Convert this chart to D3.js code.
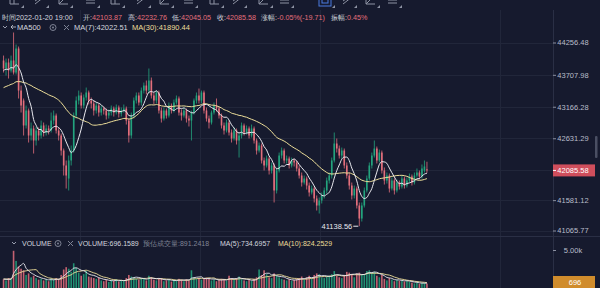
<!DOCTYPE html>
<html><head><meta charset="utf-8">
<script src="https://cdn.jsdelivr.net/npm/d3@7"></script>
<style>
html,body{margin:0;padding:0;background:#161a2e;overflow:hidden}
svg{display:block}
text{font-family:"Liberation Sans",Arial,sans-serif;font-size:7.5px}
</style></head><body>
<svg id="c" width="600" height="288"></svg>
<script>
// ---------------- DATA ----------------
const opens=[43951,43815,43917,43781,43951,43747,44154,43441,43272,42848,43102,42678,42797,42593,42763,42678,42848,42729,42797,42763,
42932,43017,42763,42678,42423,42169,41948,42254,42423,43017,43272,43357,43187,43323,43408,43272,43221,43102,43187,43068,
43136,43102,43017,43068,43136,43068,43153,43051,43102,43136,42932,42678,43017,43272,43357,43238,43441,43526,43441,43611,
43357,43272,43408,43102,42966,43102,43017,43187,43102,43238,43306,43068,43017,43102,42966,42932,43068,43272,43357,43272,
43408,43102,42966,42898,43068,43187,43136,43017,42848,42763,42898,42729,42627,42763,42593,42678,42848,42729,42797,42678,
42797,42593,42423,42508,42254,42169,42287,42084,42169,41745,42084,42338,42423,42254,42287,42169,42254,42220,42118,41999,
41880,41948,41829,41711,41778,41609,41490,41575,41660,41745,41914,41999,42254,42542,42457,42338,42423,42169,41999,41829,
41660,41778,41490,41269,41490,41745,41948,42169,42338,42457,42254,42389,42084,41914,41999,41778,41914,41745,41880,41812,
41948,41829,41914,41982,41880,41999,42050,41982,42084,42103.87];
const highs=[44035,43984,43984,44035,44426,44222,44188,43526,43306,43187,43136,42898,42848,42831,42814,42932,42898,42864,42848,43068,
43102,43051,42814,42712,42457,42254,42338,42508,43068,43340,43441,43408,43374,43492,43441,43323,43272,43238,43221,43187,
43170,43136,43119,43187,43170,43204,43187,43153,43204,43170,42966,43068,43323,43408,43408,43492,43577,43611,43815,43662,
43408,43441,43441,43153,43153,43136,43238,43221,43289,43357,43340,43119,43153,43136,43017,43102,43306,43408,43475,43441,
43441,43153,43017,43102,43238,43306,43170,43051,42898,42949,42932,42780,42814,42797,42729,42898,42881,42848,42831,42864,
42831,42627,42559,42542,42304,42338,42321,42220,42203,42135,42389,42474,42457,42338,42321,42304,42287,42254,42169,42050,
41999,41982,41880,41829,41812,41660,41626,41711,41795,41965,42050,42304,42729,42627,42508,42474,42457,42220,42050,41880,
41829,41812,41541,41541,41795,41999,42220,42389,42593,42491,42440,42423,42135,42050,42033,41965,41948,41931,41914,41999,
41982,41965,42033,42016,42050,42118,42084,42186,42254,42232.76];
const lows=[43747,43696,43645,43747,43713,43713,43306,43068,42678,42797,42559,42593,42372,42508,42593,42627,42661,42678,42695,42729,
42864,42712,42593,42338,41999,41778,41745,42169,42389,42966,43204,43136,43136,43272,43204,43136,43017,43051,43000,43017,
43034,42949,42966,43017,43000,43034,42983,43000,43068,42864,42559,42627,42966,43221,43187,43187,43391,43374,43391,43306,
43204,43221,43051,42898,42932,42966,42983,43051,43068,43204,43017,42932,42983,42898,42831,42593,43034,43221,43221,43221,
43051,42915,42797,42864,43034,43085,42966,42797,42695,42729,42678,42559,42593,42525,42304,42627,42678,42695,42627,42644,
42542,42355,42389,42203,42084,42135,42016,42033,41541,41694,42050,42287,42203,42203,42118,42135,42152,42067,41948,41812,
41846,41761,41643,41677,41541,41405,41354,41524,41609,41694,41863,41948,42220,42389,42287,42287,42118,41948,41761,41592,
41609,41439,41138.56,41218,41456,41711,41914,42118,42304,42203,42220,42033,41846,41863,41711,41745,41677,41711,41761,41778,
41778,41795,41880,41829,41846,41965,41931,41948,42050,42045.05];
const closes=[43815,43917,43781,43951,43747,44154,43441,43187,42848,43102,42678,42797,42593,42763,42678,42848,42729,42797,42763,42932,
43017,42763,42678,42423,42169,41999,42254,42423,43017,43272,43357,43187,43323,43408,43272,43221,43102,43187,43068,43136,
43102,43017,43068,43136,43068,43153,43051,43102,43136,42932,42678,43017,43272,43357,43238,43441,43526,43441,43611,43357,
43272,43408,43102,42966,43102,43017,43187,43102,43238,43306,43068,43017,43102,42966,42932,43068,43272,43357,43272,43408,
43102,42966,42898,43068,43187,43136,43017,42848,42763,42898,42729,42627,42763,42593,42678,42848,42729,42797,42678,42797,
42593,42423,42508,42254,42169,42287,42084,42169,41745,42084,42338,42423,42254,42287,42169,42254,42220,42118,41999,41880,
41948,41829,41711,41778,41609,41490,41575,41660,41745,41914,41999,42254,42542,42457,42338,42423,42169,41999,41829,41660,
41778,41490,41269,41490,41745,41948,42169,42338,42457,42254,42389,42084,41914,41999,41778,41914,41745,41880,41812,41948,
41829,41914,41982,41880,41999,42050,41982,42118,42152,42085.58];
// closes of the 29 bars before the visible window (feed the moving averages)
const priorCloses=[43320,43290,43350,43310,43280,43340,43300,43260,43330,43380,43350,43410,43390,43360,43420,43450,43400,43470,43500,43480,
43540,43590,43720,43760,43800,43740,43790,43760,43800];
const volumes=[1250,1100,1400,1300,4900,3600,2900,2600,2400,1800,
2000,1500,1700,1400,1200,1300,1100,1250,1000,1350,1200,1400,1300,
1800,2500,2800,2600,2200,3300,2700,
2100,1700,1900,2300,1600,1500,1400,1300,1450,
1100,1000,1200,900,1150,1050,1250,950,1100,1000,1400,
1800,1600,1500,1300,1200,1400,1300,1100,1700,
1500,1200,1100,1300,1400,1000,1100,1200,950,1150,1050,1300,1200,1000,1250,1100,
2400,
1500,1300,1400,1200,1300,1450,1350,1100,1200,1000,1150,1300,1250,1050,
1700,1400,1200,1350,1600,1250,1100,1000,1200,1050,1300,1500,
2500,1800,2400,1900,
1500,1400,2000,1700,1500,1300,1200,1100,1250,1050,1150,1300,
1400,1600,1200,1500,1700,1300,1800,2000,1900,1500,1400,1600,1700,1900,
2300,1700,1500,1400,1800,2200,2100,1900,1500,
2000,2100,1800,1900,2300,2400,2100,2200,1700,1500,1800,
1300,1100,1400,1200,1000,1150,1050,1100,
950,1050,900,820,720,820,650,760,800,696.1589];
const priorVolumes=[1200,1500,1100,1300,1400,1250,1350,1200,1300];
const priceTicks=[44256.48,43707.98,43166.28,42631.29,42085.58,41581.12,41065.77];
const volumeTicks=[5000];
const lastPrice=42085.58, lastVolume=696;
const lowLabel={index:142,value:41138.56};
const infoRow=[["时间2022-01-20 19:00",""],["开:","42103.87"],["高:","42232.76"],["低:","42045.05"],["收:","42085.58"],["涨幅:","-0.05%(-19.71)"],["振幅:","0.45%"]];
const maRow=[["MA(7):42022.51","ma7"],["MA(30):41890.44","ma30"]];
const volRow=[["VOLUME:696.1589","w"],["预估成交量:891.2418","g"],["MA(5):734.6957","w"],["MA(10):824.2529","y"]];

// ---------------- STYLE ----------------
const C={bg:"#161a2e",grid:"#21263a",up:"#23a47e",down:"#e36f7c",ma7:"#e9e9ef",ma30:"#eedf9a",
  text:"#d3d6df",dim:"#808596",red:"#e5707c",axis:"#b9bdca"};
const N=closes.length;
const svg=d3.select("#c");
svg.append("rect").attr("width",600).attr("height",288).attr("fill",C.bg);

const x=d3.scaleBand().domain(d3.range(N)).range([2.75,427.75]).paddingInner(0.36);
const cx=i=>x(i)+x.bandwidth()/2;
const y=d3.scaleLinear().domain([41065.77,44256.48]).range([230.5,42.5]);
const vy=d3.scaleLinear().domain([0,5000]).range([289,250]);

// grid
const g=svg.append("g");
priceTicks.forEach(t=>g.append("line").attr("x1",0).attr("x2",553).attr("y1",Math.round(y(t))+0.5).attr("y2",Math.round(y(t))+0.5).attr("stroke",C.grid));
[80,200,320,500].forEach(v=>g.append("line").attr("x1",v+0.5).attr("x2",v+0.5).attr("y1",10).attr("y2",288).attr("stroke",C.grid));
g.append("line").attr("x1",0).attr("x2",600).attr("y1",236.5).attr("y2",236.5).attr("stroke","#2a2f45");
g.append("line").attr("x1",553.5).attr("x2",553.5).attr("y1",10).attr("y2",288).attr("stroke","#2a2f45");

// candles
const col=i=>closes[i]>=opens[i]?C.up:C.down;
const cg=svg.append("g");
cg.selectAll("line").data(d3.range(N)).join("line")
  .attr("x1",cx).attr("x2",cx).attr("y1",i=>y(highs[i])).attr("y2",i=>y(lows[i]))
  .attr("stroke",col).attr("stroke-width",0.8);
cg.selectAll("rect").data(d3.range(N)).join("rect")
  .attr("x",i=>x(i)).attr("width",x.bandwidth())
  .attr("y",i=>y(Math.max(opens[i],closes[i])))
  .attr("height",i=>Math.max(1,Math.abs(y(opens[i])-y(closes[i]))))
  .attr("fill",col);

// moving averages
function ma(vals,prior,n){const all=prior.concat(vals);const off=prior.length;
  return vals.map((v,i)=>{const s=Math.max(0,i+off-n+1);const w=all.slice(s,i+off+1);return d3.mean(w);});}
const ma7=ma(closes,priorCloses,7), ma30=ma(closes,priorCloses,30);
const line=d3.line().x((d,i)=>cx(i)).y(d=>y(d)).curve(d3.curveMonotoneX);
svg.append("path").attr("d",line(ma30)).attr("fill","none").attr("stroke",C.ma30).attr("stroke-width",1);
svg.append("path").attr("d",line(ma7)).attr("fill","none").attr("stroke",C.ma7).attr("stroke-width",1);

// low label
svg.append("text").attr("x",cx(lowLabel.index)-7).attr("y",y(lowLabel.value)+3).attr("text-anchor","end")
  .attr("fill","#e8e9ee").text(d3.format(".2f")(lowLabel.value));
svg.append("line").attr("x1",cx(lowLabel.index)-6).attr("x2",cx(lowLabel.index)-1).attr("y1",y(lowLabel.value)).attr("y2",y(lowLabel.value)).attr("stroke","#e8e9ee");

// volume
const vg=svg.append("g");
vg.selectAll("rect").data(d3.range(N)).join("rect")
  .attr("x",i=>x(i)).attr("width",x.bandwidth())
  .attr("y",i=>vy(volumes[i])).attr("height",i=>vy(0)-vy(volumes[i]))
  .attr("fill",col).attr("opacity",0.85);
const vma5=ma(volumes,priorVolumes,5), vma10=ma(volumes,priorVolumes,10);
const vline=d3.line().x((d,i)=>cx(i)).y(d=>vy(d)).curve(d3.curveMonotoneX);
svg.append("path").attr("d",vline(vma10)).attr("fill","none").attr("stroke",C.ma30).attr("stroke-width",0.9);
svg.append("path").attr("d",vline(vma5)).attr("fill","none").attr("stroke",C.ma7).attr("stroke-width",0.9);

// right price axis
const ax=svg.append("g").attr("transform","translate(553,0)")
  .call(d3.axisRight(y).tickValues(priceTicks).tickSize(3).tickFormat(d3.format(".2f")));
ax.select(".domain").remove();
ax.selectAll("line").attr("stroke","#8a8fa0");
ax.selectAll("text").attr("x",20).attr("text-anchor","middle").attr("fill",C.axis).style("font-size","7.5px").style("font-family","Liberation Sans, Arial");
const vax=svg.append("g").attr("transform","translate(553,0)")
  .call(d3.axisRight(vy).tickValues(volumeTicks).tickSize(3).tickFormat(d=>d3.format(".2f")(d/1000)+"k"));
vax.select(".domain").remove();
vax.selectAll("line").attr("stroke","#8a8fa0");
vax.selectAll("text").attr("x",20).attr("text-anchor","middle").attr("fill",C.axis).style("font-size","7.5px").style("font-family","Liberation Sans, Arial");

// last price box
svg.append("rect").attr("x",553).attr("y",y(lastPrice)-6).attr("width",42).attr("height",12).attr("fill","#cf4e5c");
svg.append("text").attr("x",573).attr("y",y(lastPrice)+2.6).attr("text-anchor","middle").attr("fill","#fff").text(d3.format(".2f")(lastPrice));
svg.append("line").attr("x1",553).attr("x2",556).attr("y1",y(lastPrice)).attr("y2",y(lastPrice)).attr("stroke","#fff");
// last volume box
svg.append("rect").attr("x",553).attr("y",276).attr("width",42).attr("height",12).attr("fill","#d08c2c");
svg.append("text").attr("x",575).attr("y",285).attr("text-anchor","middle").attr("fill","#fff").text(lastVolume);
// scrollbar hint
svg.append("rect").attr("x",595).attr("y",136).attr("width",2.5).attr("height",22).attr("rx",1).attr("fill","#4a4f63");

// toolbar icons (clipped at top)
const tb=svg.append("g").attr("stroke","#8e93a4").attr("fill","none").attr("stroke-width",1);
const iconXs=[15,40,64,91,116,142,165,189,215,238,264,285,326,348,371,393];
iconXs.forEach((ix,k)=>{
  const gg=tb.append("g").attr("transform",`translate(${ix},0)`);
  if(k===12){gg.append("rect").attr("x",-7).attr("y",-3).attr("width",12).attr("height",9).attr("stroke","#4a7be0");gg.append("rect").attr("x",-4).attr("y",-1).attr("width",6).attr("height",4).attr("stroke","#4a7be0");}
  else if(k%4===0){gg.append("path").attr("d","M-5,-2 L-5,4 L4,4 M-1,-2 L-1,4");}
  else if(k%4===1){gg.append("path").attr("d","M-5,4 L4,-3 M-5,1 L1,-3");}
  else if(k%4===2){gg.append("path").attr("d","M-5,-3 L-5,4 L4,4 M-5,4 L2,-3");}
  else {gg.append("path").attr("d","M-5,0 L4,0 M-5,3 L4,3 M-5,-3 L4,-3");}
  gg.append("path").attr("d","M6,8 L9,8 L9,5 Z").attr("fill","#8e93a4").attr("stroke","none");
});

// header row: OHLC info
const r2=svg.append("text").attr("y",19.5).style("font-size","7.2px");
const r2x=[2,83,128,172,217,261,331];
infoRow.forEach((p,k)=>{
  r2.append("tspan").attr("x",r2x[k]).attr("fill",C.text).text(p[0]);
  if(p[1]) r2.append("tspan").attr("fill",C.red).text(p[1]);
});
// row 3: MA legend
svg.append("path").attr("d","M3,26 L5,28 L7,26").attr("stroke","#9a9fb0").attr("fill","none");
svg.append("path").attr("d","M13,25 L11,27 L13,29 M11,27 L16,27").attr("stroke","#c8cbd6").attr("fill","none").attr("stroke-width",0.8);
svg.append("text").attr("x",17).attr("y",30).attr("fill",C.text).text("MA500");
svg.append("circle").attr("cx",53).attr("cy",27.5).attr("r",3).attr("stroke","#7d8294").attr("fill","none");
svg.append("circle").attr("cx",53).attr("cy",27.5).attr("r",1).attr("fill","#7d8294");
svg.append("path").attr("d","M64,25 L69,30 M69,25 L64,30").attr("stroke","#7d8294");
svg.append("text").attr("x",74).attr("y",30).attr("fill",C.text).text(maRow[0][0]);
svg.append("text").attr("x",132).attr("y",30).attr("fill",C.ma30).text(maRow[1][0]);
// volume legend
svg.append("path").attr("d","M12,242 L14,244 L16,242").attr("stroke","#9a9fb0").attr("fill","none");
svg.append("text").attr("x",22).attr("y",246).attr("fill",C.text).style("font-size","7px").text("VOLUME");
svg.append("circle").attr("cx",58).attr("cy",243.5).attr("r",3).attr("stroke","#7d8294").attr("fill","none");
svg.append("circle").attr("cx",58).attr("cy",243.5).attr("r",1).attr("fill","#7d8294");
svg.append("path").attr("d","M68,241 L73,246 M73,241 L68,246").attr("stroke","#7d8294");
const vcol={w:C.text,g:C.dim,y:C.ma30};
const vxs=[78,143,220,278];
volRow.forEach((p,k)=>svg.append("text").attr("x",vxs[k]).attr("y",246).attr("fill",vcol[p[1]]).style("font-size","7px").text(p[0]));
</script>
</body></html>
